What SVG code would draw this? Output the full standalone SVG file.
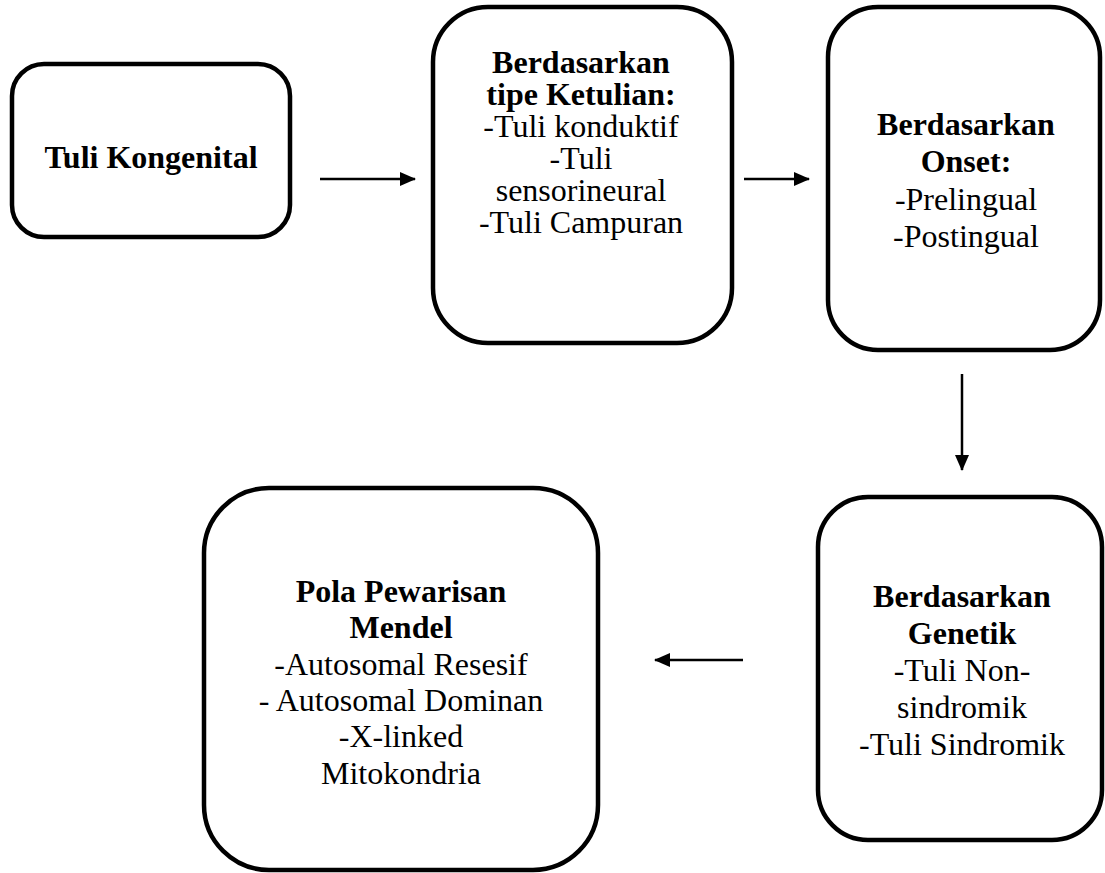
<svg xmlns="http://www.w3.org/2000/svg" width="1105" height="873" viewBox="0 0 1105 873">
<style>
.box{fill:#fff;stroke:#000;stroke-width:4.5}
.t{font-family:"Liberation Serif","Times New Roman",serif;font-size:32px;text-anchor:middle;fill:#000}
.b{font-weight:bold}
.c{stroke:#000;stroke-width:2.5;fill:none}
</style>
<defs>
<marker id="ah" markerWidth="16" markerHeight="14" refX="15" refY="7" orient="auto" markerUnits="userSpaceOnUse">
<path d="M0,0 L16,7 L0,14 Z" fill="#000"/>
</marker>
</defs>
<rect width="1105" height="873" fill="#fff"/>
<g id="connectors">
<line class="c" x1="320" y1="179" x2="415" y2="179" marker-end="url(#ah)"/>
<line class="c" x1="744" y1="179" x2="809" y2="179" marker-end="url(#ah)"/>
<line class="c" x1="962" y1="374" x2="962" y2="470" marker-end="url(#ah)"/>
<line class="c" x1="743" y1="660" x2="655" y2="660" marker-end="url(#ah)"/>
</g>
<g id="n1">
<rect class="box" x="12" y="64" width="278" height="173" rx="32"/>
<text class="t b" x="151" y="168">Tuli Kongenital</text>
</g>
<g id="n2">
<rect class="box" x="433" y="7" width="299" height="336" rx="55"/>
<text class="t" x="581" y="73"><tspan class="b" x="581">Berdasarkan</tspan><tspan class="b" x="581" dy="32">tipe Ketulian:</tspan><tspan x="581" dy="32">-Tuli konduktif</tspan><tspan x="581" dy="32">-Tuli</tspan><tspan x="581" dy="32">sensorineural</tspan><tspan x="581" dy="32">-Tuli Campuran</tspan></text>
</g>
<g id="n3">
<rect class="box" x="828" y="7" width="272" height="343" rx="50"/>
<text class="t" x="966" y="135"><tspan class="b" x="966">Berdasarkan</tspan><tspan class="b" x="966" dy="37.3">Onset:</tspan><tspan x="966" dy="37.3">-Prelingual</tspan><tspan x="966" dy="37.3">-Postingual</tspan></text>
</g>
<g id="n4">
<rect class="box" x="818" y="497" width="284" height="343" rx="50"/>
<text class="t" x="962" y="607"><tspan class="b" x="962">Berdasarkan</tspan><tspan class="b" x="962" dy="37">Genetik</tspan><tspan x="962" dy="37">-Tuli Non-</tspan><tspan x="962" dy="37">sindromik</tspan><tspan x="962" dy="37">-Tuli Sindromik</tspan></text>
</g>
<g id="n5">
<rect class="box" x="204" y="488" width="394" height="382" rx="65"/>
<text class="t" x="401" y="602"><tspan class="b" x="401">Pola Pewarisan</tspan><tspan class="b" x="401" dy="36.3">Mendel</tspan><tspan x="401" dy="36.3">-Autosomal Resesif</tspan><tspan x="401" dy="36.3">- Autosomal Dominan</tspan><tspan x="401" dy="36.3">-X-linked</tspan><tspan x="401" dy="36.3">Mitokondria</tspan></text>
</g>
</svg>
